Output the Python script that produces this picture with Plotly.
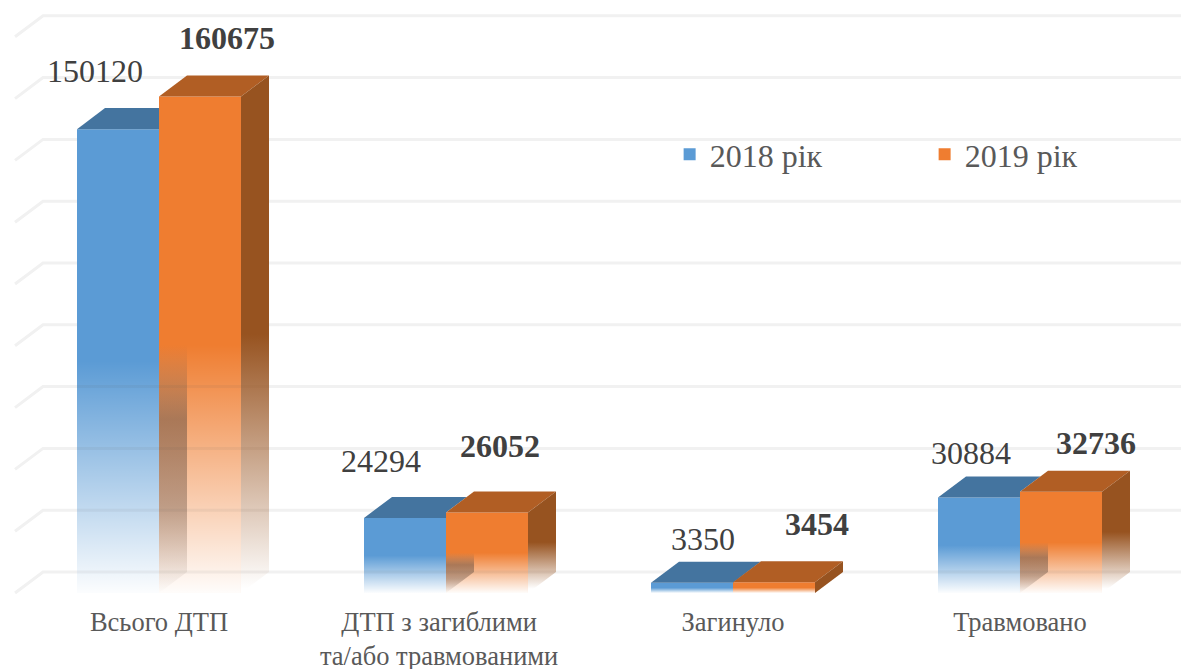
import plotly.graph_objects as go

# ---------- data ----------
categories = ["Всього ДТП", "ДТП з загиблими<br>та/або травмованими", "Загинуло", "Травмовано"]
values_2018 = [150120, 24294, 3350, 30884]
values_2019 = [160675, 26052, 3454, 32736]
name_2018 = "2018 рік"
name_2019 = "2019 рік"
grid_values = list(range(0, 180001, 20000))

# ---------- style / geometry ----------
positions = [0, 1, 2, 3]
tick_positions = [0, 0.976, 2, 3]
bar_w = 0.2857
depth_x = 0.0976
depth_y = 6800
x_range = [-0.554, 3.561]
y_range = [-3240, 191909]
BLUE, BLUE_TOP = "#5B9BD5", "#44749F"
ORANGE, ORANGE_TOP, ORANGE_SIDE = "#EF7D30", "#B15E24", "#975320"
GRID = "#F1F1F1"
SERIF = "Liberation Serif"
label_shift_2018 = [(-23, 58), (-24, 57), (11, 44), (-8, 45)]
label_shift_2019 = [(27, 59), (13, 66), (43, 58), (35, 49)]


def rgba(hex_colour, a):
    h = hex_colour.lstrip("#")
    return f"rgba({int(h[0:2],16)},{int(h[2:4],16)},{int(h[4:6],16)},{a})"


def poly(pts, fill=None, gradient=None):
    xs = [p[0] for p in pts] + [pts[0][0]]
    ys = [p[1] for p in pts] + [pts[0][1]]
    kw = dict(fillgradient=gradient) if gradient else dict(fillcolor=fill)
    return go.Scatter(x=xs, y=ys, mode="lines", fill="toself", line=dict(width=0),
                      showlegend=False, hoverinfo="skip", **kw)


fig = go.Figure()
fig.add_bar(x=positions, y=values_2018, name=name_2018, width=bar_w, offset=-bar_w,
            marker=dict(color=BLUE, line=dict(width=0)))
fig.add_bar(x=positions, y=values_2019, name=name_2019, width=bar_w, offset=0,
            marker=dict(color=ORANGE, line=dict(width=0)))

for c, a, b in zip(positions, values_2018, values_2019):
    left, right = c - bar_w, c + bar_w
    # top of the 2018 box, up to where the 2019 box hides it
    if a + depth_y <= b:
        edge = [(c, a + depth_y), (c, a)]
    else:
        edge = [(c + depth_x * (a + depth_y - b) / depth_y, a + depth_y), (c, b), (c, a)]
    fig.add_trace(poly([(left, a), (left + depth_x, a + depth_y)] + edge, fill=BLUE_TOP))
    # top and side of the 2019 box
    fig.add_trace(poly([(c, b), (c + depth_x, b + depth_y),
                        (right + depth_x, b + depth_y), (right, b)], fill=ORANGE_TOP))
    side = [(right, b), (right + depth_x, b + depth_y), (right + depth_x, depth_y), (right, 0)]
    if b > depth_y:
        fig.add_trace(poly(side, gradient=dict(type="vertical",
                                               start=b / 2 + depth_y / 2, stop=depth_y * 0.2,
                                               colorscale=[[0, rgba(ORANGE_SIDE, 1)],
                                                           [1, rgba(ORANGE_SIDE, 0)]])))
    else:
        fig.add_trace(poly(side, fill=ORANGE_SIDE))
    # lower half of both front faces fades out
    for x0, x1, v in ((left, c, a), (c, right, b)):
        fig.add_trace(poly([(x0, v / 2), (x1, v / 2), (x1, 0), (x0, 0)],
                           gradient=dict(type="vertical", start=v / 2, stop=0,
                                         colorscale=[[0, "rgba(255,255,255,0)"],
                                                     [1, "rgba(255,255,255,0.98)"]])))
    # inner wall seen through the faded 2019 front
    if b / 2 > depth_y:
        fig.add_trace(poly([(c, b / 2), (c + depth_x, b / 2),
                            (c + depth_x, depth_y), (c, 0)],
                           gradient=dict(type="vertical", start=b / 2, stop=0,
                                         colorscale=[[0, "rgba(110,85,70,0)"],
                                                     [0.3, "rgba(110,85,70,0.55)"],
                                                     [0.65, "rgba(110,85,70,0.42)"],
                                                     [1, "rgba(110,85,70,0)"]])))
    # back-wall grid lines showing faintly through the fade
    gx, gy = [], []
    for g in grid_values:
        if g + depth_y < a / 2:
            gx += [left, c, None]
            gy += [g + depth_y, g + depth_y, None]
        if g + depth_y < b / 2:
            gx += [c, right, None]
            gy += [g + depth_y, g + depth_y, None]
    if gx:
        fig.add_trace(go.Scatter(x=gx, y=gy, mode="lines", showlegend=False, hoverinfo="skip",
                                 line=dict(color="rgba(90,90,90,0.07)", width=3)))

# grid: floor diagonal plus back wall
grid_left = x_range[0] + 0.0523
for g in grid_values:
    fig.add_shape(type="path", layer="below", xref="x", yref="y",
                  path=f"M{grid_left},{g} L{grid_left + depth_x},{g + depth_y} L{x_range[1]},{g + depth_y}",
                  line=dict(color=GRID, width=3))

# data labels
for vals, shifts, bold, off in ((values_2018, label_shift_2018, False, -bar_w / 2),
                                (values_2019, label_shift_2019, True, bar_w / 2)):
    for c, v, (sx, sy) in zip(positions, vals, shifts):
        fig.add_annotation(x=c + off, y=v, xref="x", yref="y", text=str(v), showarrow=False,
                           xshift=sx, yshift=sy,
                           font=dict(family=SERIF, size=32, color="#404040",
                                     weight="bold" if bold else "normal"))

fig.update_layout(
    width=1181, height=669, margin=dict(l=0, r=0, t=0, b=66, pad=0, autoexpand=False),
    paper_bgcolor="white", plot_bgcolor="white", barmode="overlay",
    font=dict(family=SERIF, color="#595959"),
    legend=dict(orientation="h", x=0.567, y=0.744, xanchor="left", yanchor="middle",
                entrywidth=210, entrywidthmode="pixels", bgcolor="rgba(0,0,0,0)",
                font=dict(family=SERIF, size=32, color="#595959"), traceorder="normal"),
    xaxis=dict(range=x_range, tickvals=tick_positions, ticktext=categories, showgrid=False,
               zeroline=False, showline=False, ticks="", tickangle=0,
               tickfont=dict(family=SERIF, size=26.5, color="#595959")),
    yaxis=dict(range=y_range, visible=False, showgrid=False, zeroline=False),
)
fig.write_html("out.html", config=dict(displayModeBar=False),
               post_script="document.body.style.margin='0';document.documentElement.style.overflow='hidden';")
